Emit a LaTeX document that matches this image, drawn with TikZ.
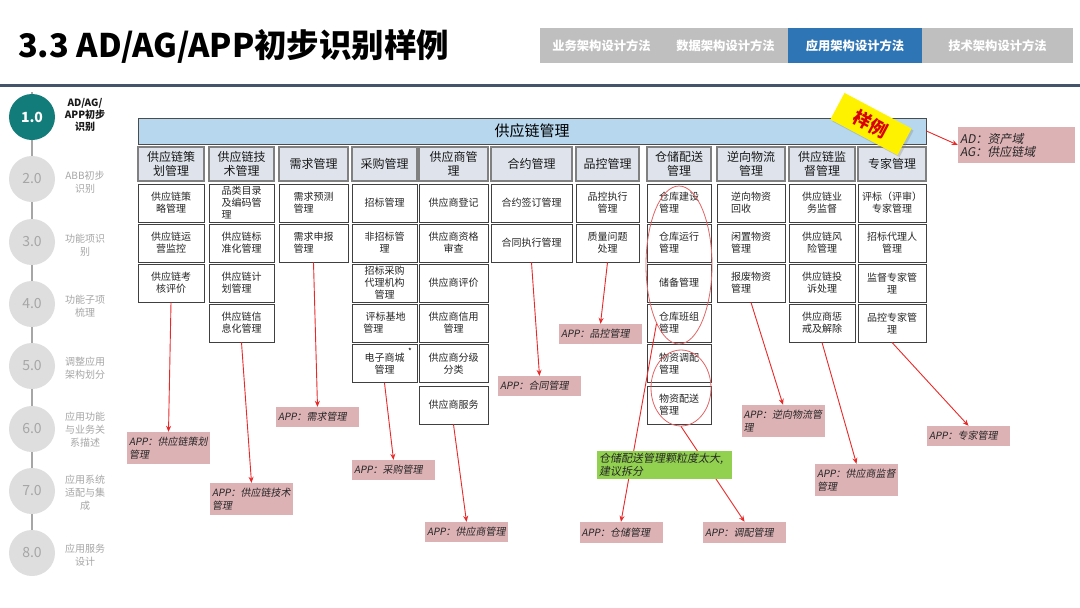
\documentclass[tikz,border=0pt]{standalone}
\usepackage{fontspec}
\setmainfont{Noto Sans CJK SC}
\newfontfamily\slfont[FakeSlant=0.18]{Noto Sans CJK SC}
\usetikzlibrary{shapes.geometric,arrows.meta,shadows}
\definecolor{teal1}{RGB}{17,124,121}
\definecolor{tabgray}{RGB}{191,191,191}
\definecolor{tabblue}{RGB}{46,117,182}
\definecolor{ruled}{RGB}{68,84,106}
\definecolor{barfill}{RGB}{182,215,237}
\definecolor{catfill}{RGB}{223,228,236}
\definecolor{pinkl}{RGB}{221,178,181}
\definecolor{greenl}{RGB}{146,208,80}
\definecolor{arrred}{RGB}{235,40,40}
\definecolor{ellred}{RGB}{225,100,100}
\definecolor{stepgray}{RGB}{222,222,222}
\definecolor{steptext}{RGB}{166,166,166}
\newcommand\ibox[5][]{\node[item,minimum width=#4,#1] (#2) at (#3) {#5};}
\newcommand\kbox[4]{\node[cat,minimum width=#3] (#1) at (#2) {#4};}
\begin{document}
\begin{tikzpicture}[x=1pt,y=-1pt,
  item/.style={draw=black!75, line width=0.9pt, fill=white, inner sep=1pt, align=center,
    font=\fontsize{10}{12}\selectfont, text=black!85, minimum height=38},
  cat/.style={draw=black!50, line width=1.3pt, fill=catfill, inner sep=1pt, align=center,
    font=\fontsize{12}{14}\selectfont, text=black!90, minimum height=34},
  tab/.style={fill=tabgray, minimum height=35, inner sep=0, text=white,
    font=\fontsize{12.3}{14}\selectfont\bfseries},
  stepc/.style={circle, fill=stepgray, minimum size=46, inner sep=0, text=steptext,
    font=\fontsize{14}{14}\selectfont},
  stept/.style={align=center, text=steptext, font=\fontsize{10}{13}\selectfont},
  applabel/.style={fill=pinkl, inner sep=2, text width=79, align=left,
    font=\slfont\fontsize{10}{12.5}\selectfont, text=black!85},
  arr/.style={draw=arrred, line width=0.9pt, -{Stealth[length=6pt,width=5pt]}},
  ell/.style={ellipse, draw=ellred, line width=0.8pt, inner sep=0}]
\useasboundingbox (0,0) rectangle (1080,608);
\fill[white] (0,0) rectangle (1080,608);
% title
\node[anchor=west, inner sep=0, font=\fontsize{32.5}{32.5}\selectfont\bfseries] (title) at (18,46) {3.3 AD/AG/APP初步识别样例};
\draw[ruled, line width=3pt] (0,85) -- (1080,85);
% tabs
\node[tab, minimum width=123] (tab1) at (601.5,45.5) {业务架构设计方法};
\node[tab, minimum width=125] (tab2) at (725.5,45.5) {数据架构设计方法};
\node[tab, minimum width=134, fill=tabblue] (tab3) at (855,45.5) {应用架构设计方法};
\node[tab, minimum width=151] (tab4) at (997.5,45.5) {技术架构设计方法};
% sidebar
\draw[steptext, line width=2pt] (32,92) -- (32,575);
\node[stepc, fill=teal1, text=white, font=\fontsize{14}{14}\selectfont\bfseries] (s1) at (32,117) {1.0};
\node[stepc] (s2) at (32,179) {2.0};
\node[stepc] (s3) at (32,242) {3.0};
\node[stepc] (s4) at (32,304) {4.0};
\node[stepc] (s5) at (32,366) {5.0};
\node[stepc] (s6) at (32,429) {6.0};
\node[stepc] (s7) at (32,491) {7.0};
\node[stepc] (s8) at (32,553) {8.0};
\node[stept, text=black!90, font=\fontsize{10}{12}\selectfont\bfseries] (t1) at (85,115) {AD/AG/\\APP初步\\识别};
\node[stept] (t2) at (85,182) {ABB初步\\识别};
\node[stept] (t3) at (85,245) {功能项识\\别};
\node[stept] (t4) at (85,306) {功能子项\\梳理};
\node[stept] (t5) at (85,368) {调整应用\\架构划分};
\node[stept] (t6) at (85,430) {应用功能\\与业务关\\系描述};
\node[stept] (t7) at (85,493) {应用系统\\适配与集\\成};
\node[stept] (t8) at (85,555) {应用服务\\设计};
% header bar
\node[draw=black!70, line width=0.9pt, fill=barfill, minimum width=788, minimum height=26, inner sep=0,
  font=\fontsize{15}{15}\selectfont] (bar) at (532,131) {供应链管理};
% categories
\kbox{k1}{171,164}{66}{供应链策\\划管理}
\kbox{k2}{241.5,164}{65}{供应链技\\术管理}
\kbox{k3}{313.5,164}{69}{需求管理}
\kbox{k4}{384.5,164}{65}{采购管理}
\kbox{k5}{453.5,164}{69}{供应商管\\理}
\kbox{k6}{531.5,164}{81}{合约管理}
\kbox{k7}{607.5,164}{63}{品控管理}
\kbox{k8}{679,164}{64}{仓储配送\\管理}
\kbox{k9}{751,164}{68}{逆向物流\\管理}
\kbox{k10}{822,164}{66}{供应链监\\督管理}
\kbox{k11}{892,164}{68}{专家管理}
% column 1
\ibox{n1r1}{171,203}{66}{供应链策\\略管理}
\ibox{n1r2}{171,243}{66}{供应链运\\营监控}
\ibox{n1r3}{171,283}{66}{供应链考\\核评价}
% column 2
\ibox[align=left]{n2r1}{241.5,203}{65}{品类目录\\及编码管\\理}
\ibox[align=left]{n2r2}{241.5,243}{65}{供应链标\\准化管理}
\ibox[align=left]{n2r3}{241.5,283}{65}{供应链计\\划管理}
\ibox[align=left]{n2r4}{241.5,323}{65}{供应链信\\息化管理}
% column 3
\ibox[align=left]{n3r1}{313.5,203}{69}{需求预测\\管理}
\ibox[align=left]{n3r2}{313.5,243}{69}{需求申报\\管理}
% column 4
\ibox{n4r1}{384.5,203}{65}{招标管理}
\ibox{n4r2}{384.5,243}{65}{非招标管\\理}
\ibox{n4r3}{384.5,283}{65}{招标采购\\代理机构\\管理}
\ibox[align=left]{n4r4}{384.5,323}{65}{\ 评标基地\\管理}
\ibox{n4r5}{384.5,363.5}{65}{电子商城\\管理}
\node[inner sep=0, font=\fontsize{8}{8}\selectfont] (star) at (410,351) {*};
% column 5
\ibox{n5r1}{453.5,203}{69}{供应商登记}
\ibox{n5r2}{453.5,243}{69}{供应商资格\\审查}
\ibox{n5r3}{453.5,283}{69}{供应商评价}
\ibox{n5r4}{453.5,323}{69}{供应商信用\\管理}
\ibox{n5r5}{453.5,363.5}{69}{供应商分级\\分类}
\ibox{n5r6}{453.5,405}{69}{供应商服务}
% column 6
\ibox{n6r1}{531.5,203}{81}{合约签订管理}
\ibox{n6r2}{531.5,243}{81}{合同执行管理}
% column 7
\ibox{n7r1}{607.5,203}{63}{品控执行\\管理}
\ibox{n7r2}{607.5,243}{63}{质量问题\\处理}
% column 8
\ibox[align=left]{n8r1}{679,203}{64}{仓库建设\\管理}
\ibox[align=left]{n8r2}{679,243}{64}{仓库运行\\管理}
\ibox{n8r3}{679,283}{64}{储备管理}
\ibox[align=left]{n8r4}{679,323}{64}{仓库班组\\管理}
\ibox[align=left]{n8r5}{679,363.5}{64}{物资调配\\管理}
\ibox[align=left]{n8r6}{679,405}{64}{物资配送\\管理}
% column 9
\ibox[align=left]{n9r1}{751,203}{68}{逆向物资\\回收}
\ibox[align=left]{n9r2}{751,243}{68}{闲置物资\\管理}
\ibox[align=left]{n9r3}{751,283}{68}{报废物资\\管理}
% column 10
\ibox{n10r1}{822,203}{66}{供应链业\\务监督}
\ibox{n10r2}{822,243}{66}{供应链风\\险管理}
\ibox{n10r3}{822,283}{66}{供应链投\\诉处理}
\ibox{n10r4}{822,323}{66}{供应商惩\\戒及解除}
% column 11
\ibox{n11r1}{892,203}{68}{评标（评审）\\专家管理}
\ibox{n11r2}{892,243}{68}{招标代理人\\管理}
\ibox{n11r3}{892,283}{68}{监督专家管\\理}
\ibox{n11r4}{892,323}{68}{品控专家管\\理}
% ellipses
\node[ell, minimum width=66, minimum height=158] (e1) at (679,265) {};
\node[ell, minimum width=60, minimum height=76] (e2) at (681,388) {};
% sample tag
\node[fill=yellow, rotate=-28, minimum width=76, minimum height=30, inner sep=0,
  text=red!85!black, font=\fontsize{18}{18}\selectfont\bfseries,
  drop shadow={opacity=0.3, shadow xshift=2pt, shadow yshift=-2pt}] (sample) at (871,124) {样例};
% labels
\node[applabel, minimum height=32] (l1) at (168.5,448) {APP：供应链策划\\管理};
\node[applabel, minimum height=32] (l2) at (251.5,499) {APP：供应链技术\\管理};
\node[applabel, minimum height=20] (l3) at (317.5,417) {APP：需求管理};
\node[applabel, minimum height=20] (l4) at (393.5,470) {APP：采购管理};
\node[applabel, minimum height=20] (l5) at (466.5,532) {APP：供应商管理};
\node[applabel, minimum height=20] (l6) at (539.5,386) {APP：合同管理};
\node[applabel, minimum height=20] (l7) at (600.5,334) {APP：品控管理};
\node[applabel, minimum height=21] (l8) at (621,532.5) {APP：仓储管理};
\node[applabel, minimum height=21] (l9) at (744.5,532.5) {APP：调配管理};
\node[applabel, minimum height=32] (l10) at (783,421) {APP：逆向物流管\\理};
\node[applabel, minimum height=32] (l11) at (856.5,480) {APP：供应商监督\\管理};
\node[applabel, minimum height=20] (l12) at (968.5,436) {APP：专家管理};
\node[applabel, text width=113, minimum height=36, font=\slfont\fontsize{12}{13}\selectfont] (lad) at (1016.5,145) {AD：资产域\\AG：供应链域};
% arrows
\draw[arr] (n1r3.south) -- (l1.north);
\draw[arr] (n2r4.south) -- (l2.north);
\draw[arr] (n3r2.south) -- (l3.north);
\draw[arr] (n4r5.south) -- (l4.north);
\draw[arr] (n5r6.south) -- (l5.north);
\draw[arr] (n6r2.south) -- (l6.north);
\draw[arr] (n7r2.south) -- (l7.north);
\draw[arr] (e1.249) -- (l8.north);
\draw[arr] (e2.south) -- (l9.north);
\draw[arr] (n9r3.south) -- (l10.north);
\draw[arr] (n10r4.south) -- (l11.north);
\draw[arr] (n11r4.south) -- (l12.north);
\draw[arr] (bar.east) -- (lad.west);
% green note
\node[fill=greenl, inner sep=2, text width=131, minimum height=28, align=left,
  font=\slfont\fontsize{11}{13}\selectfont, text=black!85] (note) at (664.5,465) {仓储配送管理颗粒度太大,\\建议拆分};
\end{tikzpicture}
\end{document}
